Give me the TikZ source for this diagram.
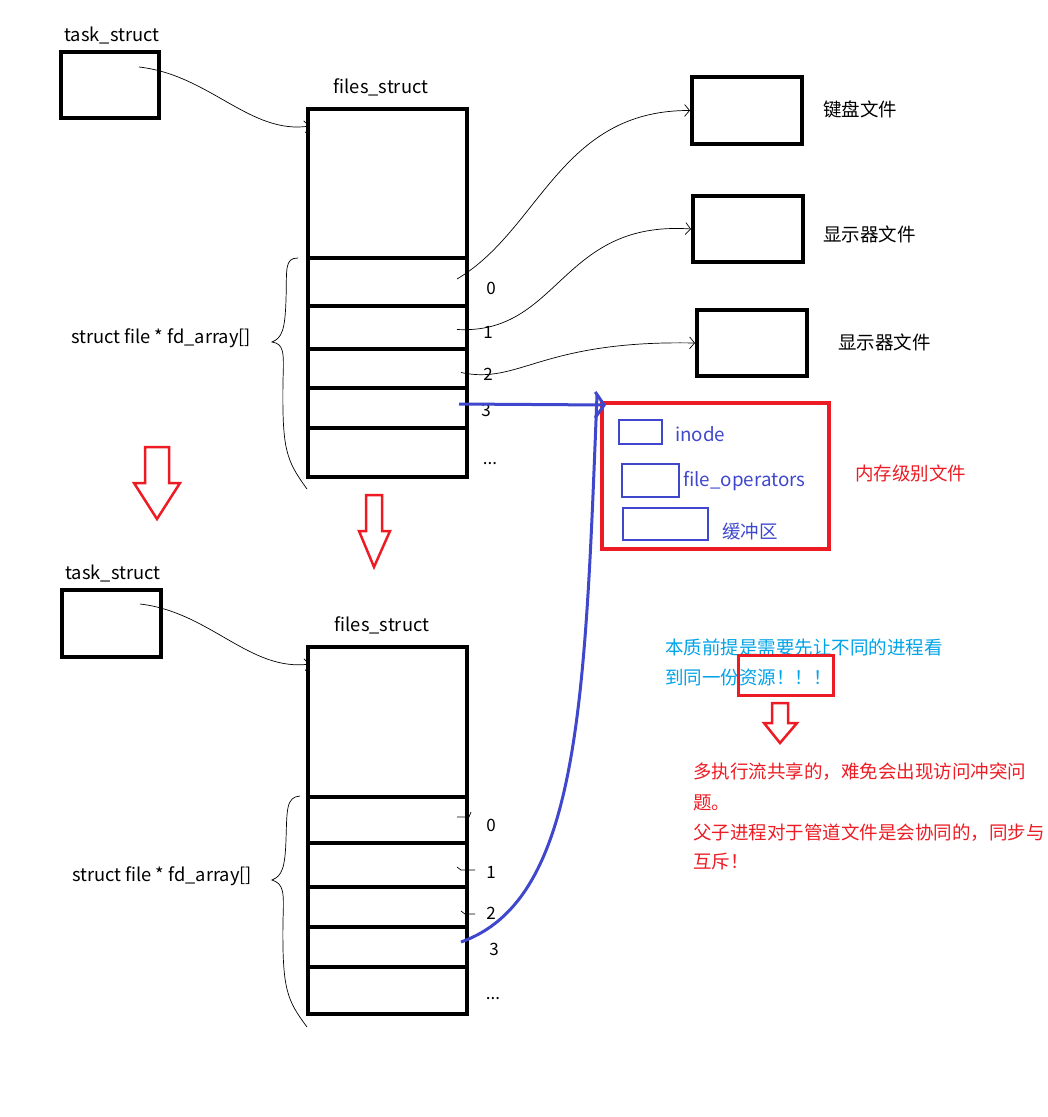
\documentclass[tikz,border=0pt]{standalone}
\usepackage{fontspec}
\setmainfont{Noto Sans CJK SC}
\usetikzlibrary{arrows.meta,positioning,calc}

\definecolor{paintred}{RGB}{237,28,36}
\definecolor{paintblue}{RGB}{63,72,204}
\definecolor{notecyan}{RGB}{0,162,232}

\begin{document}
\begin{tikzpicture}[
    x=1pt, y=-1pt,
    box/.style={draw, line width=4pt, inner sep=0pt},
    slot/.style={draw, line width=4pt, inner sep=0pt, minimum width=159pt},
    inbox/.style={draw=paintblue, line width=2pt, inner sep=0pt},
    lbl/.style={font=\fontsize{18.3}{20}\selectfont, inner sep=0pt},
    cjk/.style={font=\fontsize{18.5}{20}\selectfont, inner sep=0pt, anchor=west},
    num/.style={font=\fontsize{17}{18}\selectfont, inner sep=0pt},
    link/.style={-{Straight Barb[length=5pt,width=12pt]}, line width=0.7pt},
    fdarrow/.style={draw=paintred, line width=2.5pt, line join=miter}
]
\useasboundingbox (0,0) rectangle (1048,1117);

% ---- upper process
\node[lbl] (taskname) at (112,35) {task\_struct};
\node[box, minimum width=98pt, minimum height=66pt] (task) at (110,85) {};
\node[lbl] (filesname) at (381,87) {files\_struct};
\node[box, minimum width=159pt, minimum height=149pt] (files) at (387.5,183.5) {};
\node[slot, minimum height=48pt] (s0) at (387.5,282) {};
\node[slot, minimum height=43pt] (s1) at (387.5,327.5) {};
\node[slot, minimum height=39pt] (s2) at (387.5,368.5) {};
\node[slot, minimum height=40pt] (s3) at (387.5,408) {};
\node[slot, minimum height=49pt] (s4) at (387.5,452.5) {};
\node[num] (n0) at (491,288) {0};
\node[num] (n1) at (488,332) {1};
\node[num] (n2) at (488,374) {2};
\node[num] (n3) at (486,410) {3};
\node[num] (n4) at (490,464) {...};
\node[lbl] (fdarr) at (161,338) {struct file * fd\_array[]};

% ---- files on disk / devices
\node[box, minimum width=110pt, minimum height=67pt] (kbd) at (747,110.5) {};
\node[box, minimum width=110pt, minimum height=66pt] (scr) at (748,229) {};
\node[box, minimum width=110pt, minimum height=66pt] (scr2) at (752,343) {};
\node[cjk] (kbdname) at (823,109) {键盘文件};
\node[cjk] (scrname) at (823,234) {显示器文件};
\node[cjk] (scr2name) at (838,342) {显示器文件};

% ---- memory-level file
\node[draw=paintred, line width=4pt, minimum width=227pt, minimum height=146pt] (memfile) at (715.5,476) {};
\node[inbox, minimum width=43pt, minimum height=24pt] (inode) at (640.5,432) {};
\node[inbox, minimum width=57pt, minimum height=33pt] (fops) at (650.5,480.5) {};
\node[inbox, minimum width=85pt, minimum height=32pt] (buf) at (665.5,524) {};
\node[lbl, text=paintblue, anchor=west, font=\fontsize{18.8}{20}\selectfont] (inodename) at (675,434) {inode};
\node[lbl, text=paintblue, anchor=west, font=\fontsize{18.8}{20}\selectfont] (fopsname) at (683,481) {file\_operators};
\node[cjk, text=paintblue] (bufname) at (722,531) {缓冲区};
\node[cjk, text=paintred] (memname) at (855,473) {内存级别文件};

% ---- lower process
\node[lbl] (taskname2) at (113,573) {task\_struct};
\node[box, minimum width=99pt, minimum height=67pt] (task2) at (111.5,623.5) {};
\node[lbl] (filesname2) at (382,625) {files\_struct};
\node[box, minimum width=159pt, minimum height=150pt] (files2) at (387.5,722) {};
\node[slot, minimum height=46pt] (t0) at (387.5,820) {};
\node[slot, minimum height=44pt] (t1) at (387.5,865) {};
\node[slot, minimum height=40pt] (t2) at (387.5,907) {};
\node[slot, minimum height=40pt] (t3) at (387.5,947) {};
\node[slot, minimum height=47pt] (t4) at (387.5,990.5) {};
\node[num] (m0) at (491,825) {0};
\node[num] (m1) at (491,872) {1};
\node[num] (m2) at (491,913) {2};
\node[num] (m3) at (494,949) {3};
\node[num] (m4) at (493,999) {...};
\node[lbl] (fdarr2) at (162,876) {struct file * fd\_array[]};

% ---- notes
\node[cjk, text=notecyan] (note1) at (665,647) {本质前提是需要先让不同的进程看};
\node[cjk, text=notecyan] (note2) at (665,678) {到同一份资源！！！};
\node[draw=paintred, line width=3pt, minimum width=95pt, minimum height=40pt] (mark) at (785.5,675) {};
\node[cjk, text=paintred] (res1) at (693,772) {多执行流共享的，难免会出现访问冲突问};
\node[cjk, text=paintred] (res2) at (693,803) {题。};
\node[cjk, text=paintred] (res3) at (693,833) {父子进程对于管道文件是会协同的，同步与};
\node[cjk, text=paintred] (res4) at (693,862) {互斥！};

% fork arrows
\draw[fdarrow] (145,447) -- (145,483) -- (134,483) -- (157,519) -- (180,483) -- (169,483) -- (169,447) -- cycle;
\draw[fdarrow] (366,495) -- (366,531) -- (359,531) -- (374,567) -- (390,531) -- (382,531) -- (382,495) -- cycle;
\draw[fdarrow] (772,703) -- (772,723) -- (764,723) -- (780,743) -- (797,723) -- (788,723) -- (788,703) -- cycle;

% braces
\draw[line width=0.7pt] ($(s0.north west)+(-8,2)$) .. controls (284,258) and (287,270) .. (286,300)
  .. controls (285,330) and (282,338) .. (272,342)
  .. controls (284,344) and (284,352) .. (283,380)
  .. controls (282,450) and (286,460) .. ($(s4.south west)+(1,10)$);
\draw[line width=0.7pt] ($(t0.north west)+(-6,1)$) .. controls (286,797) and (287,810) .. (286,840)
  .. controls (285,868) and (282,876) .. (272,880)
  .. controls (284,884) and (284,892) .. (283,920)
  .. controls (282,990) and (287,1000) .. ($(t4.south west)+(1,11)$);

% pointers
\coordinate (p0) at (139,67);
\coordinate (q0) at (140,604);
\draw[link] (p0) .. controls (210,75) and (250,135) .. ($(files.north west)+(4,19)$);
\draw[link] (q0) .. controls (210,612) and (250,672) .. ($(files2.north west)+(4,19)$);
\draw[link] ($(s0.east)+(-12,-3)$) .. controls (540,230) and (560,110) .. (kbd.west);
\draw[link] ($(s1.east)+(-12,2)$) .. controls (560,335) and (560,220) .. (scr.west);
\draw[link] ($(s2.east)+(-8,4)$) .. controls (520,385) and (540,340) .. (scr2.west);
\draw[line width=0.7pt] ($(t0.east)+(-12,-3)$) -- ++(12,0) -- ++(2,-5);
\draw[line width=0.7pt] ($(t1.east)+(-12,2)$) -- ++(4,3) -- ++(14,0);
\draw[line width=0.7pt] ($(t2.east)+(-8,4)$) -- ++(4,3) -- ++(10,0);
\coordinate (hit) at (606,405);
\draw[paintblue, line width=3pt, -{Straight Barb[length=9pt,width=26pt]}] ($(s3.east)+(-10,-4)$) -- (hit);
\draw[paintblue, line width=3pt] ($(t3.east)+(-8,-5)$) .. controls (580,900) and (585,700) .. ($(hit)+(-9,-10)$);
\end{tikzpicture}
\end{document}
